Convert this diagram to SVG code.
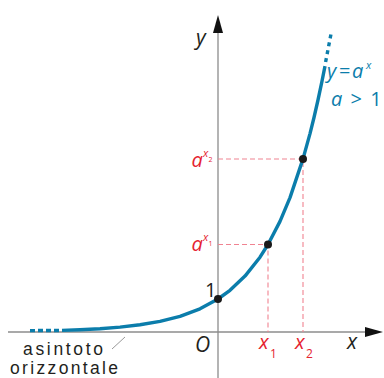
<svg xmlns="http://www.w3.org/2000/svg" width="384" height="378" viewBox="0 0 384 378">
<style>
text{font-family:"Open Sans","Noto Sans","DejaVu Sans",sans-serif;fill:#231f20}
.it{font-style:italic}
.red{fill:#e5232f}
.blue{fill:#0b7dab}
.note{font-family:"Liberation Sans","Open Sans",sans-serif;font-size:17.5px}
.ax{stroke:#8c8c8c;stroke-width:1.3;fill:none}
.guide{stroke:#f08391;stroke-width:1.1;stroke-dasharray:5 3;fill:none}
.curve{stroke:#0b7dab;stroke-width:3.4;fill:none;stroke-linejoin:round}
.pt{fill:#1a1a1a}
</style>
<rect width="384" height="378" fill="#ffffff"/>
<g id="connectors">
  <g id="axes">
    <line class="ax" x1="8" y1="332" x2="368" y2="332"/>
    <polygon points="383,332 365,327 365,337" fill="#111"/>
    <line class="ax" x1="218" y1="378" x2="218" y2="30"/>
    <polygon points="218,15 213,33 223,33" fill="#111"/>
  </g>
  <g id="guides">
    <polyline class="guide" points="218,159 303,159 303,332"/>
    <polyline class="guide" points="218,244.5 268,244.5 268,332"/>
  </g>
  <g id="curve">
    <polyline class="curve" points="62,330.4 80,329.8 100,328.7 120,327.1 140,324.8 160,321.4 180,316.3 200,308.8 218,299 230,290.3 245,276.1 260,257.2 268,244.5 280,221.4 290,197.6 303,158.9 310,133.6 314,117.5 318,100 322,81.2 325,66.1"/>
    <line class="curve" x1="325.6" y1="62" x2="331" y2="34" stroke-dasharray="4 4"/>
    <line class="curve" x1="30" y1="330.6" x2="60" y2="330.5" stroke-dasharray="5 3"/>
  </g>
  <line id="asymptote-pointer" x1="112" y1="349" x2="125" y2="337" stroke="#999" stroke-width="1"/>
</g>
<g id="points">
  <circle class="pt" cx="218" cy="299" r="4"/>
  <circle class="pt" cx="268" cy="244.5" r="4"/>
  <circle class="pt" cx="303" cy="159" r="4"/>
</g>
<g id="labels">
  <text class="it" x="196" y="45" font-size="21">y</text>
  <text x="205" y="297" font-size="20">1</text>
  <text class="it" x="195" y="352" font-size="21">O</text>
  <text class="it" x="347" y="349" font-size="21">x</text>
  <text class="it red" x="259" y="349" font-size="20">x</text>
  <text class="red" x="270" y="358" font-size="12">1</text>
  <text class="it red" x="295" y="349" font-size="20">x</text>
  <text class="red" x="306" y="358" font-size="12">2</text>
  <text class="it red" x="191.5" y="167" font-size="20">a</text>
  <text class="it red" x="203" y="157" font-size="11">x</text>
  <text class="red" x="208.5" y="162" font-size="7">2</text>
  <text class="it red" x="191.5" y="251" font-size="20">a</text>
  <text class="it red" x="203" y="241" font-size="11">x</text>
  <text class="red" x="208.5" y="246" font-size="7">1</text>
  <text class="it blue" x="327" y="78" font-size="20">y</text>
  <text class="blue" x="339" y="78" font-size="20">=</text>
  <text class="it blue" x="352" y="78" font-size="20">a</text>
  <text class="it blue" x="366" y="69" font-size="11">x</text>
  <text class="blue" x="331" y="106" font-size="20" word-spacing="3"><tspan class="it">a</tspan> &gt; 1</text>
  <text class="note" x="23" y="354.5" textLength="80">asintoto</text>
  <text class="note" x="10" y="374" textLength="108">orizzontale</text>
</g>
</svg>
